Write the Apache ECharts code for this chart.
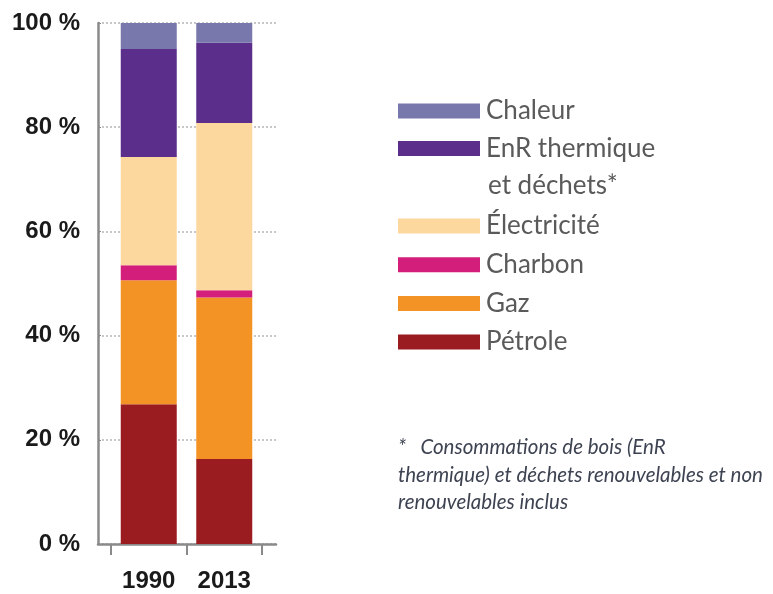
<!DOCTYPE html>
<html>
<head>
<meta charset="utf-8">
<script src="https://cdn.jsdelivr.net/npm/echarts@6/dist/echarts.min.js"></script>
<style>
  html, body { margin: 0; padding: 0; background: #fff; }
  #chart { width: 773px; height: 594px; }
</style>
</head>
<body>
<div id="chart"></div>
<script>
const years = ['1990', '2013']
const petrole = [26.8, 16.3]
const gaz = [23.8, 31.0]
const charbon = [2.9, 1.4]
const electricite = [20.8, 32.1]
const enr = [20.7, 15.4]
const chaleur = [5.0, 3.8]

const seriesNames = ['Pétrole', 'Gaz', 'Charbon', 'Électricité', 'EnR thermique et déchets*', 'Chaleur']
const seriesValues = [petrole, gaz, charbon, electricite, enr, chaleur]
const colors = ['#9b1c20', '#f39325', '#d31f7b', '#fcd89f', '#5b2e8b', '#7878ac']

const chart = echarts.init(document.getElementById('chart'))

const legendText = {
  fontFamily: 'Lato',
  fontSize: 26,
  lineHeight: 26,
  color: '#5a5a5a',
  padding: [0, 0, 0, 1]
}

const axisFont = {
  fontFamily: '"Liberation Sans", Arial, sans-serif',
  fontSize: 24,
  fontWeight: 'bold',
  color: '#1a1a1a'
}

const option = {
  backgroundColor: '#fff',
  animation: false,
  grid: [
    // bars
    { left: 111, right: 511, top: 23, bottom: 50 },
    // background frame (axis line, dotted lines)
    { left: 98, right: 497, top: 23, bottom: 50 }
  ],
  xAxis: [
    {
      type: 'category',
      gridIndex: 0,
      data: years,
      axisLine: { show: false },
      axisTick: { show: true, length: 11, lineStyle: { color: '#8a8a8a', width: 2 } },
      axisLabel: Object.assign({ margin: 25, interval: 0, hideOverlap: false }, axisFont)
    },
    {
      type: 'value',
      gridIndex: 1,
      min: 0,
      max: 1,
      axisLine: { show: true, onZero: false, lineStyle: { color: '#8a8a8a', width: 2.5 } },
      axisTick: { show: false },
      axisLabel: { show: false },
      splitLine: { show: false }
    }
  ],
  yAxis: [
    { type: 'value', gridIndex: 0, min: 0, max: 100, show: false },
    {
      type: 'value',
      gridIndex: 1,
      min: 0,
      max: 100,
      interval: 20,
      axisLine: { show: true, lineStyle: { color: '#8a8a8a', width: 2.5 } },
      axisTick: { show: true, inside: true, length: 3, lineStyle: { color: '#8a8a8a' } },
      axisLabel: Object.assign({ formatter: '{value} %', margin: 18 }, axisFont),
      splitLine: { show: true, lineStyle: { color: '#b5b5b5', width: 1.5, type: [2, 2] } }
    }
  ],
  legend: [
    {
      orient: 'vertical',
      left: 393,
      top: 93,
      icon: 'rect',
      itemWidth: 82,
      itemHeight: 15,
      itemGap: 11.6,
      selectedMode: false,
      data: ['Chaleur', 'EnR thermique et déchets*'],
      formatter: name => (name === 'EnR thermique et déchets*' ? 'EnR thermique' : name),
      textStyle: legendText
    },
    {
      orient: 'vertical',
      left: 393,
      top: 208,
      icon: 'rect',
      itemWidth: 82,
      itemHeight: 15,
      itemGap: 12.7,
      selectedMode: false,
      data: ['Électricité', 'Charbon', 'Gaz', 'Pétrole'],
      textStyle: legendText
    }
  ],
  graphic: [
    {
      type: 'text',
      left: 488,
      top: 173,
      style: { text: 'et déchets*', font: '26px Lato', fill: '#5a5a5a' }
    },
    {
      type: 'text',
      left: 398,
      top: 434,
      style: {
        text: '*   Consommations de bois (EnR\nthermique) et déchets renouvelables et non\nrenouvelables inclus',
        font: 'italic 20.5px Lato',
        lineHeight: 27.5,
        fill: '#3e4352'
      }
    }
  ],
  series: seriesNames.map((name, i) => ({
    name: name,
    type: 'bar',
    stack: 'total',
    xAxisIndex: 0,
    yAxisIndex: 0,
    barWidth: 56,
    itemStyle: { color: colors[i] },
    data: seriesValues[i]
  }))
}

chart.setOption(option)
</script>
</body>
</html>
